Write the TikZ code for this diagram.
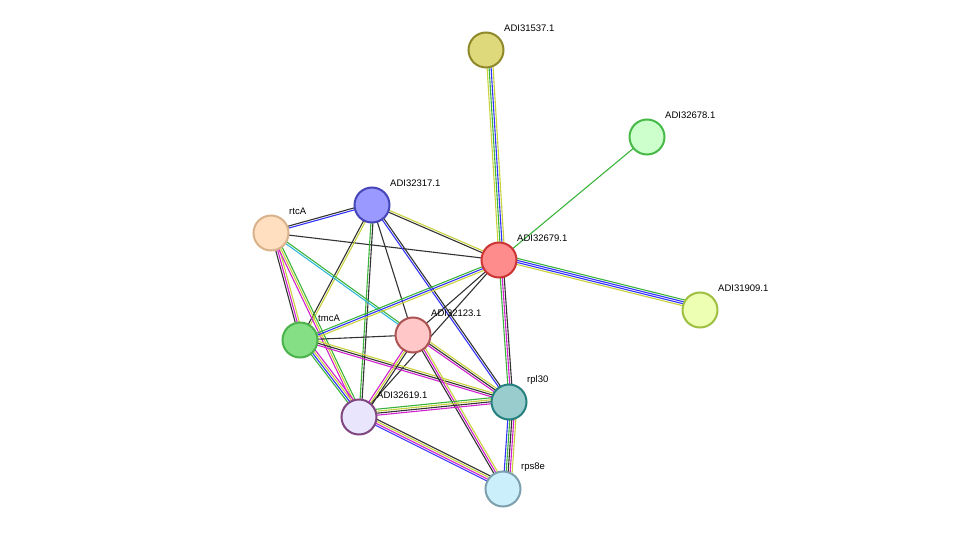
\documentclass[tikz,border=0pt]{standalone}
\usepackage{fontspec}
\setmainfont{Liberation Sans}
\usetikzlibrary{calc}
\definecolor{cnb}{HTML}{3CB43C}
\definecolor{ccoo}{HTML}{3333FF}
\definecolor{cexp}{HTML}{D020D0}
\definecolor{ctxt}{HTML}{C8D23C}
\definecolor{cdb}{HTML}{33B8DD}
\definecolor{cco}{HTML}{333333}
\tikzset{
  prot/.style 2 args={draw=#2, fill=#1, circle, line width=2pt, minimum size=35pt, inner sep=0pt},
  lbl/.style={font=\fontsize{9.5}{11}\selectfont, anchor=west, inner sep=0pt}
}
% draws parallel coloured lines between two nodes
\newcommand{\plink}[3]{%
  \foreach \c [count=\i] in {#3} {
    \pgfmathsetmacro{\off}{(\i-1)*2}
    \draw[\c, line width=1.1pt] ($(#1)!\off pt!90:(#2)$) -- ($(#2)!\off pt!-90:(#1)$);
  }}
\begin{document}
\begin{tikzpicture}[x=1pt, y=-1pt]
  \useasboundingbox (0,0) rectangle (975,535);
  % Node positions
  \coordinate (p31537) at (486,50);
  \coordinate (p32678) at (647,137);
  \coordinate (p32317) at (372,205);
  \coordinate (prtcA) at (271,233);
  \coordinate (p32679) at (499,260);
  \coordinate (p31909) at (700,310);
  \coordinate (ptmcA) at (300,340);
  \coordinate (p32123) at (413,335);
  \coordinate (prpl30) at (509,402);
  \coordinate (p32619) at (359,417);
  \coordinate (prps8e) at (503,489);
  % Edges
  \plink{p31537}{p32679}{ctxt,cnb,ccoo,ctxt}
  \plink{p32678}{p32679}{cnb}
  \plink{p32679}{p31909}{ctxt,ccoo,ccoo,cnb}
  \plink{p32317}{p32679}{cco,ctxt}
  \plink{prtcA}{p32679}{cco}
  \plink{prtcA}{p32317}{ccoo,cco}
  \plink{p32317}{ptmcA}{cco,ctxt}
  \plink{p32317}{p32123}{cco}
  \plink{p32317}{p32619}{cnb,cco}
  \plink{p32317}{prpl30}{ccoo,cco}
  \plink{prtcA}{ptmcA}{cco,cexp,ctxt}
  \plink{prtcA}{p32619}{cexp,ctxt,cnb}
  \plink{prtcA}{p32123}{cdb,cnb}
  \plink{p32679}{ptmcA}{cnb,ccoo,ctxt}
  \plink{p32679}{p32123}{cco}
  \plink{p32679}{p32619}{cco}
  \plink{p32679}{prpl30}{cnb,cexp,cco}
  \plink{ptmcA}{p32123}{cco}
  \plink{ptmcA}{prpl30}{cexp,cco,ctxt}
  \plink{ptmcA}{p32619}{cnb,ccoo,ctxt,cexp}
  \plink{p32123}{p32619}{cexp,ctxt,cco}
  \plink{p32123}{prpl30}{cexp,cco,ctxt}
  \plink{p32123}{prps8e}{cco,cexp,ctxt}
  \plink{p32619}{prpl30}{cexp,cco,ctxt,cnb}
  \plink{p32619}{prps8e}{ccoo,cexp,ctxt,cco}
  \plink{prpl30}{prps8e}{ccoo,cnb,cco,cexp,ctxt}
  % Nodes
  \node[prot={yellow!35!olive!45!white}{olive!70!gray}] (n31537) at (p31537) {};
  \node[prot={green!20!white}{green!45!gray}] (n32678) at (p32678) {};
  \node[prot={blue!40!white}{blue!45!gray}] (n32317) at (p32317) {};
  \node[prot={orange!25!white}{brown!60!white}] (nrtcA) at (prtcA) {};
  \node[prot={red!45!white}{red!60!gray}] (n32679) at (p32679) {};
  \node[prot={lime!30!white}{lime!50!gray}] (n31909) at (p31909) {};
  \node[prot={green!60!gray!60!white}{green!40!gray}] (ntmcA) at (ptmcA) {};
  \node[prot={red!22!white}{red!35!gray}] (n32123) at (p32123) {};
  \node[prot={violet!22!blue!10!white}{violet!45!gray}] (n32619) at (p32619) {};
  \node[prot={teal!40!white}{teal!70!gray}] (nrpl30) at (prpl30) {};
  \node[prot={cyan!20!white}{cyan!30!gray}] (nrps8e) at (prps8e) {};
  % Labels
  \foreach \n/\t in {31537/ADI31537.1, 32678/ADI32678.1, 32317/ADI32317.1, rtcA/rtcA,
      32679/ADI32679.1, 31909/ADI31909.1, tmcA/tmcA, 32123/ADI32123.1,
      rpl30/rpl30, 32619/ADI32619.1, rps8e/rps8e}
    \node[lbl] (l\n) at ($(n\n)+(18,-22)$) {\t};
\end{tikzpicture}
\end{document}
